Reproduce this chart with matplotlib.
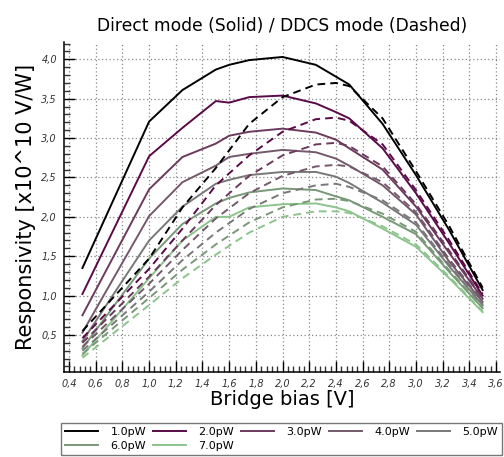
import numpy as np
import matplotlib
matplotlib.use("Agg")
import matplotlib.pyplot as plt
from matplotlib.ticker import MultipleLocator, FuncFormatter

# ============================================================
# Data
# ============================================================

labels = ["1.0pW", "2.0pW", "3.0pW", "4.0pW", "5.0pW", "6.0pW", "7.0pW"]
colors = ["#000000", "#5a0a46", "#6b3a5d", "#73596b", "#787878", "#789878", "#8cc48c"]

# Direct mode (solid)
bias_direct = [0.5, 1.0, 1.25, 1.5, 1.6, 1.75, 2.0, 2.25, 2.4, 2.5, 2.75, 3.0, 3.25, 3.5]
resp_direct = [
    [1.35, 3.21, 3.61, 3.87, 3.93, 3.99, 4.03, 3.93, 3.78, 3.68, 3.18, 2.53, 1.83, 1.07],
    [1.02, 2.77, 3.13, 3.47, 3.45, 3.52, 3.54, 3.44, 3.33, 3.25, 2.87, 2.30, 1.66, 1.00],
    [0.75, 2.35, 2.76, 2.93, 3.03, 3.08, 3.12, 3.07, 2.98, 2.87, 2.60, 2.13, 1.54, 0.96],
    [0.53, 2.01, 2.44, 2.65, 2.76, 2.80, 2.85, 2.82, 2.74, 2.65, 2.40, 2.03, 1.43, 0.92],
    [0.42, 1.70, 2.13, 2.42, 2.47, 2.53, 2.57, 2.57, 2.51, 2.43, 2.18, 1.90, 1.37, 0.88],
    [0.33, 1.47, 1.91, 2.17, 2.24, 2.31, 2.36, 2.34, 2.26, 2.21, 2.00, 1.78, 1.30, 0.84],
    [0.24, 1.22, 1.70, 2.00, 2.00, 2.12, 2.16, 2.17, 2.12, 2.07, 1.85, 1.62, 1.22, 0.79],
]

# DDCS mode (dashed)
bias_ddcs = [0.5, 1.0, 1.25, 1.5, 1.75, 2.0, 2.25, 2.4, 2.5, 2.75, 3.0, 3.25, 3.5]
resp_ddcs = [
    [0.55, 1.47, 2.12, 2.62, 3.18, 3.52, 3.68, 3.70, 3.66, 3.25, 2.58, 1.88, 1.10],
    [0.46, 1.34, 1.85, 2.40, 2.78, 3.08, 3.24, 3.26, 3.22, 2.92, 2.34, 1.70, 1.02],
    [0.40, 1.24, 1.70, 2.15, 2.52, 2.78, 2.92, 2.94, 2.90, 2.64, 2.16, 1.57, 0.97],
    [0.35, 1.15, 1.58, 1.98, 2.30, 2.52, 2.64, 2.66, 2.64, 2.44, 2.06, 1.46, 0.93],
    [0.30, 1.05, 1.45, 1.80, 2.10, 2.30, 2.40, 2.42, 2.38, 2.21, 1.93, 1.39, 0.89],
    [0.26, 0.97, 1.33, 1.65, 1.93, 2.12, 2.22, 2.23, 2.20, 2.04, 1.81, 1.32, 0.85],
    [0.21, 0.88, 1.22, 1.52, 1.80, 2.00, 2.07, 2.07, 2.05, 1.88, 1.65, 1.24, 0.80],
]

# ============================================================
# Plot
# ============================================================

fig = plt.figure(figsize=(5.04, 4.57), dpi=100)
ax = fig.add_axes([64 / 504, 1 - 372 / 457, 436 / 504, 330 / 457])

handles = []
for lab, c, r in zip(labels, colors, resp_direct):
    h, = ax.plot(bias_direct, r, c=c, lw=1.4, label=lab)
    handles.append(h)

for c, r in zip(colors, resp_ddcs):
    ax.plot(bias_ddcs, r, c=c, lw=1.4, dashes=(4, 2.6))

ax.set_xlim(0.362, 3.63)
ax.set_ylim(0.03, 4.22)

ax.xaxis.set_major_locator(MultipleLocator(0.2))
ax.xaxis.set_minor_locator(MultipleLocator(0.04))
ax.yaxis.set_major_locator(MultipleLocator(0.5))
ax.yaxis.set_minor_locator(MultipleLocator(0.1))

comma = FuncFormatter(lambda v, p: f"{v:.1f}".replace(".", ","))
ax.xaxis.set_major_formatter(comma)
ax.yaxis.set_major_formatter(comma)

ax.tick_params(which="major", direction="in", length=8, width=1, color="black",
               labelsize=7, labelcolor="#333333", pad=5)
ax.tick_params(which="minor", direction="in", length=4, width=1, color="#333333")
for t in ax.get_xticklabels() + ax.get_yticklabels():
    t.set_fontstyle("italic")

ax.set_axisbelow(True)
ax.grid(which="major", color="#888888", linestyle=(0, (1, 2)), linewidth=0.9)

for s in ["top", "right"]:
    ax.spines[s].set_visible(False)
for s in ["left", "bottom"]:
    ax.spines[s].set_linewidth(1.1)

ax.set_xlabel("Bridge bias [V]", fontsize=14, labelpad=1)
ax.set_ylabel("Responsivity [x10^10 V/W]", fontsize=15, labelpad=4)
ax.set_title("Direct mode (Solid) / DDCS mode (Dashed)", fontsize=12.3, pad=8)

# legend filled row by row: 1-5 on the first row, 6-7 on the second
order = [0, 5, 1, 6, 2, 3, 4]
fig.legend([handles[i] for i in order], [labels[i] for i in order],
           loc="upper left", bbox_to_anchor=(61 / 504, 1 - 423 / 457), ncol=5,
           fontsize=8, frameon=True, fancybox=False, edgecolor="#555555",
           handlelength=3.0, handletextpad=1.1, columnspacing=0.6,
           labelspacing=0.35, borderpad=0.35, borderaxespad=0)

fig.savefig("out.png", dpi=100)
